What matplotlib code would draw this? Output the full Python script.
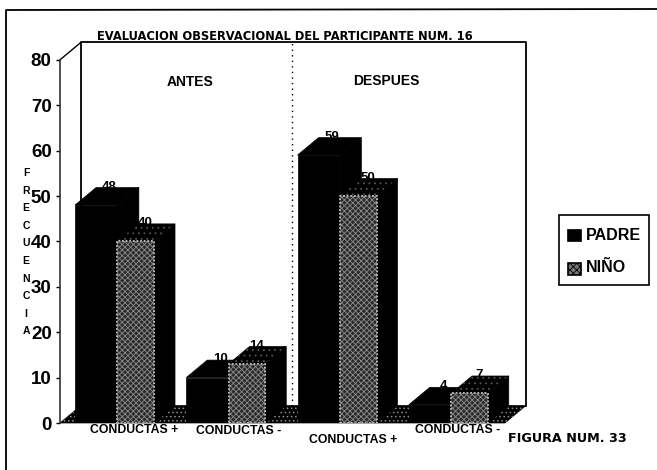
import matplotlib

matplotlib.use("Agg")
import matplotlib.pyplot as plt
from matplotlib.patches import Polygon, Rectangle

plt.rcParams["font.family"] = ["Liberation Sans", "DejaVu Sans"]
plt.rcParams["hatch.linewidth"] = 0.6

W, H = 657, 470

# values
categories = ["CONDUCTAS +", "CONDUCTAS -", "CONDUCTAS +", "CONDUCTAS -"]
padre = [48, 10, 59, 4]
nino = [40, 13, 50, 6.5]
padre_labels = ["48", "10", "59", "4"]
nino_labels = ["40", "14", "50", "7"]
y_ticks = [0, 10, 20, 30, 40, 50, 60, 70, 80]

# depth of the fake 3D, in data units
DX = 21 / 111.25
DY = 17.5 / 4.54


def px_axes(fig, x0, y0, x1, y1):
    """Axes placed by image pixels (y counted from the top)."""
    return fig.add_axes([x0 / W, 1 - y1 / H, (x1 - x0) / W, (y1 - y0) / H])


def stipple(ax, points, color="#999999", hatch="....", zorder=3):
    # hatch takes the edge colour, so the dots go on as a separate patch
    ax.add_patch(Polygon(points, facecolor="none", edgecolor=color, hatch=hatch, lw=0, zorder=zorder, clip_on=False))


def bar3d(ax, left, width, value, textured):
    top = [(left, value), (left + width, value), (left + width + DX, value + DY), (left + DX, value + DY)]
    side = [(left + width, 0), (left + width + DX, DY), (left + width + DX, value + DY), (left + width, value)]
    ax.add_patch(Polygon(side, facecolor="black", edgecolor="black", lw=0.5, zorder=3))
    ax.add_patch(Polygon(top, facecolor="black", edgecolor="black", lw=0.5, zorder=3))
    if not textured:
        ax.add_patch(Rectangle((left, 0), width, value, facecolor="black", edgecolor="black", lw=0.5, zorder=4))
        return
    stipple(ax, top, color="#555555", hatch="...")
    ax.add_patch(Rectangle((left, 0), width, value, facecolor="#2a2a2a", edgecolor="#cccccc", lw=1.3,
                           ls=(0, (1, 1)), zorder=4))
    ax.add_patch(Rectangle((left, 0), width, value, facecolor="none", edgecolor="#8c8c8c",
                           hatch="xxxxxx", lw=0, zorder=5))


fig = plt.figure(figsize=(W / 100, H / 100), dpi=100)
fig.patch.set_facecolor("white")

# outer frame of the page
frame = fig.add_axes([0, 0, 1, 1])
frame.set_xlim(0, W)
frame.set_ylim(H, 0)
frame.axis("off")
frame.plot([6, 6, 657], [470, 10, 9], color="black", lw=1.3)

ax = px_axes(fig, 60, 43, 526, 423)
ax.set_xlim(0, 466 / 111.25)
ax.set_ylim(0, 380 / 4.54)
for s in ax.spines.values():
    s.set_visible(False)
ax.patch.set_alpha(0)

# walls and floor
xmax = 4.0
ax.plot([DX, DX, xmax + DX, xmax + DX], [DY, 80 + DY, 80 + DY, DY], color="black", lw=1.3, clip_on=False)
ax.plot([0, DX], [80, 80 + DY], color="black", lw=1, clip_on=False)
ax.plot([0, 0], [0, 80], color="#333333", lw=1.2, clip_on=False)
floor = [(0, 0), (xmax, 0), (xmax + DX, DY), (DX, DY)]
ax.add_patch(Polygon(floor, facecolor="black", edgecolor="black", lw=0.5, zorder=1, clip_on=False))
stipple(ax, floor, color="#8c8c8c", hatch="....", zorder=1)
ax.plot([2.085] * 2, [DY, 80 + DY], color="black", lw=1, ls=(0, (1, 3)), zorder=1)

for i in range(len(categories)):
    bar3d(ax, i + 0.135, 0.385, padre[i], False)
    bar3d(ax, i + 0.515, 0.33, nino[i], True)
    # the numbers sink into the bar tops, as in the scan
    ax.text(i + 0.135 + DX + 0.12, padre[i] + DY + 0.2, padre_labels[i], ha="center", va="center",
            fontsize=9.5, fontweight="bold", zorder=2)
    ax.text(i + 0.515 + DX + 0.06, nino[i] + DY + 0.2, nino_labels[i], ha="center", va="center",
            fontsize=9.5, fontweight="bold", zorder=2)

ax.set_yticks(y_ticks)
ax.set_yticklabels([str(v) for v in y_ticks], fontsize=13.5, fontweight="bold")
ax.tick_params(axis="y", length=3, width=1, pad=3)
ax.set_xticks([])

# category labels sit at uneven heights in the scan
label_y = [430, 431, 440, 430]
label_x = [134, 239, 353, 458]
for name, x, y in zip(categories, label_x, label_y):
    frame.text(x, y, name, ha="center", va="center", fontsize=8.8, fontweight="bold")

frame.text(285, 37, "EVALUACION OBSERVACIONAL DEL PARTICIPANTE NUM. 16", ha="center", va="center",
           fontsize=8.3, fontweight="bold", family="DejaVu Sans")
frame.text(190, 82, "ANTES", ha="center", va="center", fontsize=10, fontweight="bold")
frame.text(386, 81, "DESPUES", ha="center", va="center", fontsize=10, fontweight="bold")
frame.text(567, 438, "FIGURA NUM. 33", ha="center", va="center", fontsize=9.2, fontweight="bold",
           family="DejaVu Sans")

for i, ch in enumerate("FRECUENCIA"):
    frame.text(26, 173 + i * 17.6, ch, ha="center", va="center", fontsize=7.5, fontweight="bold")

# legend
frame.add_patch(Rectangle((559, 215), 90, 70, facecolor="white", edgecolor="black", lw=1.2))
frame.add_patch(Rectangle((567, 229), 14, 12, facecolor="black", edgecolor="black", lw=0.5))
frame.add_patch(Rectangle((568, 263), 13, 12, facecolor="#777777", edgecolor="black", lw=1.2, hatch="xxxxx"))
frame.text(586, 235, "PADRE", ha="left", va="center", fontsize=11.5, fontweight="bold")
frame.text(586, 268, "NIÑO", ha="left", va="center", fontsize=11.5, fontweight="bold")

fig.savefig("out.png", dpi=100)
